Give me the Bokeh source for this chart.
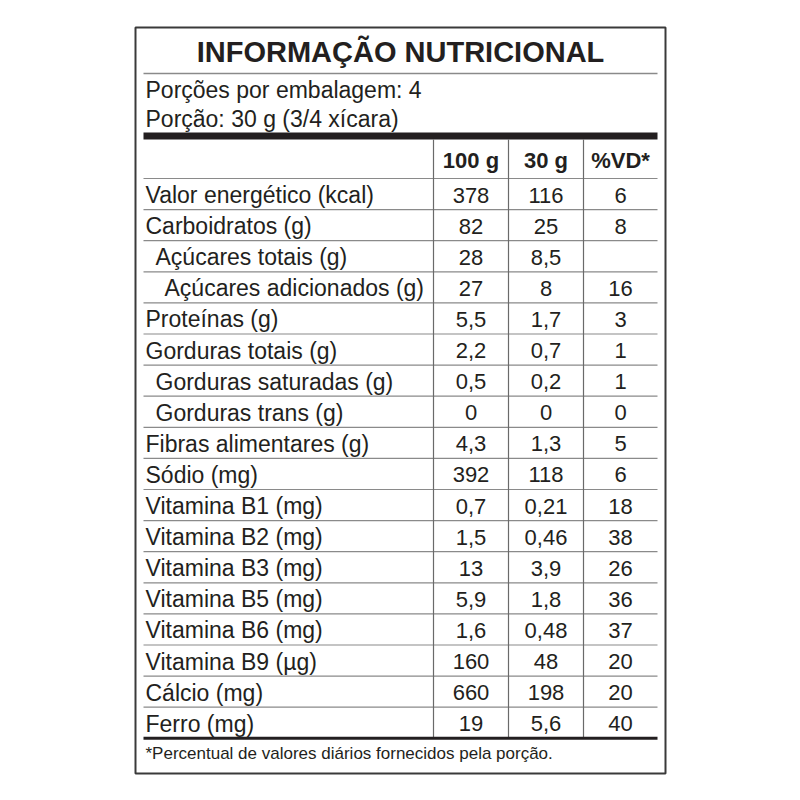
from bokeh.plotting import figure
from bokeh.models import ColumnDataSource
from bokeh.core.properties import value
from bokeh.embed import file_html
from bokeh.resources import INLINE

title = "INFORMAÇÃO NUTRICIONAL"
servings_line = "Porções por embalagem: 4"
portion_line = "Porção: 30 g (3/4 xícara)"
headers = ["100 g", "30 g", "%VD*"]
footnote = "*Percentual de valores diários fornecidos pela porção."

nutrients = ["Valor energético (kcal)", "Carboidratos (g)", "Açúcares totais (g)",
             "Açúcares adicionados (g)", "Proteínas (g)", "Gorduras totais (g)",
             "Gorduras saturadas (g)", "Gorduras trans (g)", "Fibras alimentares (g)",
             "Sódio (mg)", "Vitamina B1 (mg)", "Vitamina B2 (mg)", "Vitamina B3 (mg)",
             "Vitamina B5 (mg)", "Vitamina B6 (mg)", "Vitamina B9 (µg)", "Cálcio (mg)",
             "Ferro (mg)"]
indent = [0, 0, 1, 2, 0, 0, 1, 1, 0, 0, 0, 0, 0, 0, 0, 0, 0, 0]
per100 = ["378", "82", "28", "27", "5,5", "2,2", "0,5", "0", "4,3", "392", "0,7", "1,5",
          "13", "5,9", "1,6", "160", "660", "19"]
per30 = ["116", "25", "8,5", "8", "1,7", "0,7", "0,2", "0", "1,3", "118", "0,21", "0,46",
         "3,9", "1,8", "0,48", "48", "198", "5,6"]
vd = ["6", "8", "", "16", "3", "1", "1", "0", "5", "6", "18", "38", "26", "36", "37",
      "20", "20", "40"]

# layout (page pixel coordinates)
BX0, BX1, BY0, BY1 = 135, 665, 27, 773
IX0, IX1 = 143, 657
TITLE_LINE = 73
BAR_TOP, BAR_BOT = 132, 139
HEAD_BOT = 178
ROW_H = 31.1
COLS = [433, 508, 583]
FOOT_LINE = HEAD_BOT + ROW_H * len(nutrients)

FONT = value("Liberation Sans")
TXT = "#231f20"
GRAY = "#8a8a8a"

p = figure(width=784, height=784, x_range=(0, 784), y_range=(784, 0),
           output_backend="svg", toolbar_location=None, min_border=0)
p.axis.visible = False
p.grid.visible = False
p.outline_line_color = None
p.background_fill_color = "white"

# outer border
p.quad(left=[BX0], right=[BX1], top=[BY0], bottom=[BY1], fill_color=None,
       line_color="#3a3a3a", line_width=2)

# title
p.text(x=[(BX0 + BX1) / 2], y=[51], text=[title], text_font=FONT, text_font_style="bold",
       text_font_size="29px", text_align="center", text_baseline="middle", text_color=TXT)
p.segment(x0=[IX0], x1=[IX1], y0=[TITLE_LINE], y1=[TITLE_LINE], line_color=GRAY, line_width=1.5)

p.text(x=[IX0 + 2, IX0 + 2], y=[89, 118], text=[servings_line, portion_line], text_font=FONT,
       text_font_size="23px", text_align="left", text_baseline="middle", text_color=TXT)

# thick bar
p.quad(left=[IX0], right=[IX1], top=[BAR_TOP], bottom=[BAR_BOT], fill_color="#231f20",
       line_color=None)

# header
col_centers = [(COLS[0] + COLS[1]) / 2, (COLS[1] + COLS[2]) / 2, (COLS[2] + IX1) / 2]
p.text(x=col_centers, y=[(BAR_BOT + HEAD_BOT) / 2 + 1] * 3, text=headers, text_font=FONT,
       text_font_style="bold", text_font_size="22px", text_align="center",
       text_baseline="middle", text_color=TXT)

# horizontal row separators
n = len(nutrients)
ys = [HEAD_BOT + ROW_H * i for i in range(n)]
p.segment(x0=[IX0] * n, x1=[IX1] * n, y0=ys, y1=ys, line_color=GRAY, line_width=1.2)
# vertical column lines
p.segment(x0=COLS, x1=COLS, y0=[BAR_BOT] * 3, y1=[FOOT_LINE] * 3, line_color="#6a6a6a",
          line_width=1.2)
# bottom thick line
p.segment(x0=[IX0], x1=[IX1], y0=[FOOT_LINE], y1=[FOOT_LINE], line_color="#231f20",
          line_width=3)

rows = ColumnDataSource(dict(
    y=[HEAD_BOT + ROW_H * (i + 0.5) + 1 for i in range(n)],
    lx=[IX0 + 2 + 10 * k - (1 if k == 2 else 0) for k in indent],
    name=nutrients, a=per100, b=per30, c=vd,
))
p.text(x="lx", y="y", text="name", source=rows, text_font=FONT, text_font_size="23px",
       text_align="left", text_baseline="middle", text_color=TXT)
for cx, col in zip(col_centers, ["a", "b", "c"]):
    p.text(x=cx, y="y", text=col, source=rows, text_font=FONT, text_font_size="22px",
           text_align="center", text_baseline="middle", text_color=TXT)

p.text(x=[IX0 + 2], y=[FOOT_LINE + 15], text=[footnote], text_font=FONT,
       text_font_size="17px", text_align="left", text_baseline="middle", text_color=TXT)

open("out.html", "w").write(file_html(p, INLINE))
